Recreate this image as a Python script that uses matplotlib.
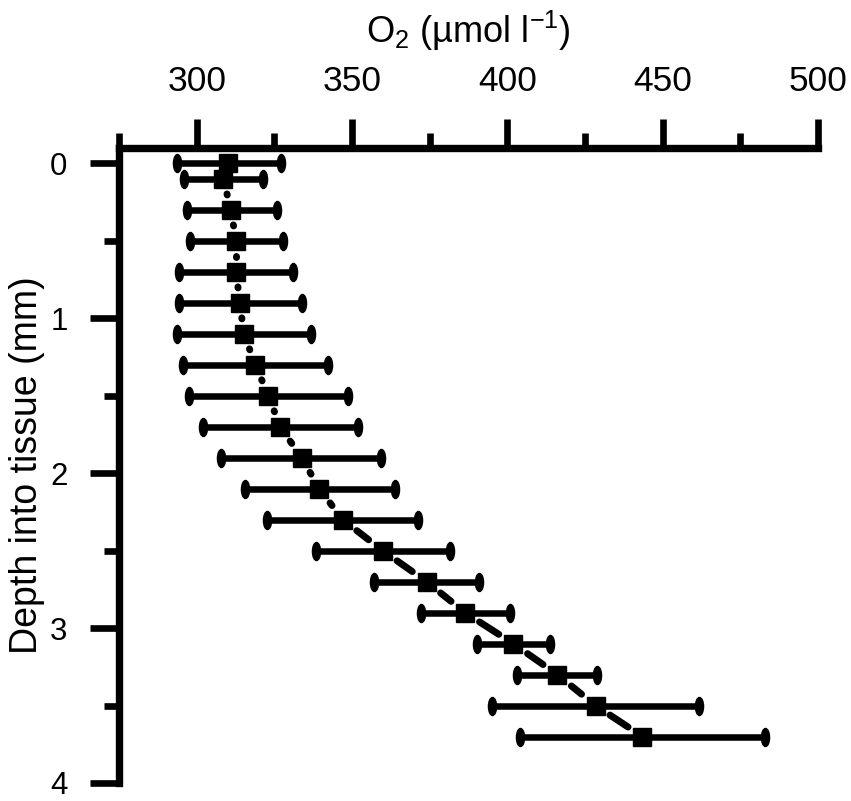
import numpy as np
import matplotlib
matplotlib.use('Agg')
import matplotlib.pyplot as plt
import matplotlib.transforms as mtransforms
from matplotlib.path import Path

# --- data ---
depth = [0, 0.1, 0.3, 0.5, 0.7, 0.9, 1.1, 1.3, 1.5, 1.7,
         1.9, 2.1, 2.3, 2.5, 2.7, 2.9, 3.1, 3.3, 3.5, 3.7]
o2 = [310.2, 308.6, 311.0, 312.7, 312.7, 313.9, 315.2, 318.9, 323.1, 326.9,
      333.8, 339.5, 347.0, 359.9, 374.0, 386.4, 401.9, 416.1, 428.4, 443.5]
o2_low = [293.6, 296.0, 296.8, 297.9, 294.4, 294.3, 293.8, 295.7, 297.5, 301.9,
          307.8, 315.6, 322.7, 338.4, 357.1, 372.1, 390.1, 403.0, 395.2, 404.1]
o2_high = [327.0, 321.3, 325.7, 327.9, 331.1, 333.8, 336.7, 342.4, 348.6, 352.0,
           359.2, 363.8, 371.1, 381.5, 391.0, 400.8, 413.6, 429.0, 461.7, 483.1]

xticks = [300, 350, 400, 450, 500]
yticks = [0, 1, 2, 3, 4]

plt.rcParams['font.family'] = ['Liberation Sans', 'DejaVu Sans']
plt.rcParams['mathtext.fontset'] = 'custom'
plt.rcParams['mathtext.rm'] = 'Liberation Sans'
plt.rcParams['mathtext.it'] = 'Liberation Sans:italic'
plt.rcParams['mathtext.bf'] = 'Liberation Sans:bold'


def gapped_line(ax, xs, ys, half_px, gap_px, lw):
    # one dash per segment, kept clear of the square markers
    pts = ax.transData.transform(np.column_stack([xs, ys]))
    inv = ax.transData.inverted()
    r = lw * ax.figure.dpi / 72 / 2
    for a, b in zip(pts[:-1], pts[1:]):
        d = b - a
        L = np.hypot(*d)
        u = d / L
        edge = half_px / max(abs(u[0]), abs(u[1]))
        if L / 2 - edge < r + 2:
            continue
        off = min(edge + gap_px + r, L / 2 - 0.5)
        seg = inv.transform([a + u * off, b - u * off])
        ax.plot(seg[:, 0], seg[:, 1], color='k', lw=lw,
                solid_capstyle='round', zorder=3)


fig = plt.figure(figsize=(8.51, 8.01), dpi=100)
ax = fig.add_axes([119 / 851, 18 / 801, 699 / 851, 635 / 801])
ax.set_xlim(275, 500)
ax.set_ylim(4, -0.1)

o2_a = np.array(o2)
ax.errorbar(o2, depth, xerr=[o2_a - np.array(o2_low), np.array(o2_high) - o2_a],
            fmt='none', ecolor='k', elinewidth=4.7, capsize=0, zorder=2)

cap = Path.unit_circle().transformed(mtransforms.Affine2D().scale(0.45, 1.0))
ax.plot(o2_low, depth, ls='none', marker=cap, ms=13, color='k', zorder=2)
ax.plot(o2_high, depth, ls='none', marker=cap, ms=13, color='k', zorder=2)

gapped_line(ax, o2, depth, half_px=9, gap_px=3, lw=5)
ax.plot(o2, depth, ls='none', marker='s', ms=13, color='k', zorder=5)

ax.xaxis.tick_top()
ax.xaxis.set_label_position('top')
ax.set_xticks(xticks)
ax.set_xticks(np.arange(275, 501, 25), minor=True)
ax.set_yticks(yticks)
ax.set_yticks(np.arange(0, 4.01, 0.5), minor=True)
ax.set_xticklabels([str(v) for v in xticks])
ax.set_yticklabels([str(v) for v in yticks])

ax.tick_params(which='major', length=21, width=4.8, direction='out',
               pad=15, color='k')
ax.tick_params(which='minor', length=10.5, width=4.8, direction='out', color='k')
ax.tick_params(axis='x', which='major', labelsize=25.5)
ax.tick_params(axis='y', which='major', labelsize=22.5, pad=16)

for side in ['bottom', 'right']:
    ax.spines[side].set_visible(False)
for side in ['top', 'left']:
    ax.spines[side].set_linewidth(5.3)

ax.set_xlabel('O$_2$ (µmol l$^{-1}$)', fontsize=26, labelpad=16)
ax.set_ylabel('Depth into tissue (mm)', fontsize=27, labelpad=4)

fig.savefig('out.png', dpi=100)
